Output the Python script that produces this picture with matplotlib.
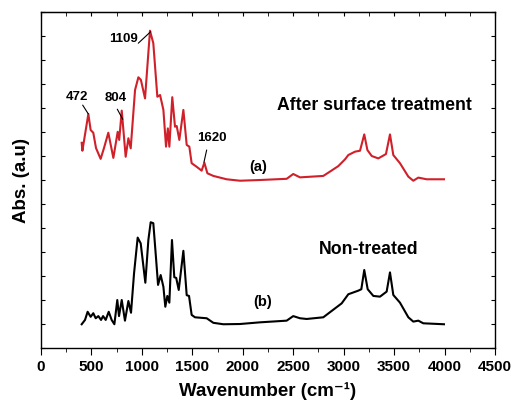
import numpy as np
import matplotlib.pyplot as plt
from matplotlib.ticker import MultipleLocator

plt.rcParams['font.family'] = ['Liberation Sans', 'DejaVu Sans']
plt.rcParams['font.weight'] = 'bold'

# after surface treatment, spectrum (a)
wn_a = [403, 410, 469, 492, 518, 545, 591, 624, 667, 717, 760, 775, 800, 839, 866, 889,
        932, 965, 990, 1031, 1080, 1113, 1153, 1180, 1213, 1239, 1257, 1272, 1301, 1328,
        1345, 1371, 1411, 1444, 1470, 1493, 1543, 1592, 1619, 1649, 1708, 1840, 1972,
        2170, 2435, 2500, 2567, 2798, 2864, 2947, 3013, 3046, 3112, 3162, 3204, 3235,
        3278, 3343, 3419, 3459, 3492, 3558, 3641, 3690, 3740, 3822, 3994]
abs_a = [8.55, 8.22, 9.75, 9.08, 8.97, 8.33, 7.88, 8.33, 8.97, 7.92, 9.01, 8.67, 9.89, 7.97,
         8.74, 8.32, 10.75, 11.28, 11.17, 10.40, 13.22, 12.70, 10.47, 10.54, 9.92, 8.39,
         9.15, 8.39, 10.45, 9.22, 9.25, 8.67, 9.92, 8.46, 8.39, 7.70, 7.55, 7.39, 7.72,
         7.28, 7.17, 7.03, 6.97, 7.00, 7.05, 7.25, 7.11, 7.17, 7.35, 7.58, 7.86, 8.04,
         8.18, 8.22, 8.90, 8.25, 8.00, 7.90, 8.08, 8.90, 8.04, 7.70, 7.14, 6.97, 7.10,
         7.03, 7.03]

# non-treated, spectrum (b)
wn_b = [403, 436, 462, 492, 518, 542, 568, 595, 615, 641, 671, 700, 727, 756, 773, 800,
        832, 866, 892, 922, 958, 988, 1034, 1064, 1087, 1113, 1140, 1160, 1186, 1213,
        1232, 1252, 1272, 1298, 1321, 1340, 1365, 1411, 1444, 1467, 1493, 1526, 1642,
        1708, 1807, 1972, 2170, 2435, 2500, 2567, 2633, 2798, 2914, 2980, 3046, 3145,
        3175, 3204, 3238, 3294, 3360, 3426, 3459, 3492, 3558, 3641, 3690, 3740, 3789, 3994]
abs_b = [0.99, 1.17, 1.51, 1.30, 1.45, 1.24, 1.33, 1.17, 1.33, 1.17, 1.51, 1.17, 0.99, 2.00,
         1.33, 2.00, 1.14, 1.96, 1.47, 3.11, 4.60, 4.36, 2.72, 4.50, 5.24, 5.20, 3.74,
         2.63, 3.04, 2.55, 1.72, 2.17, 1.89, 4.50, 2.95, 2.92, 2.42, 4.05, 2.20, 2.17,
         1.38, 1.28, 1.24, 1.05, 0.99, 1.00, 1.07, 1.14, 1.33, 1.24, 1.21, 1.28, 1.65,
         1.86, 2.24, 2.39, 2.45, 3.25, 2.45, 2.17, 2.14, 2.35, 3.15, 2.21, 1.89, 1.28,
         1.10, 1.14, 1.03, 0.99]

# peak labels on spectrum (a)
peak_labels = ['472', '804', '1109', '1620']
label_pos = [(357, 10.45), (743, 10.4), (816, 12.86), (1695, 8.74)]
# leader lines: start near label, end at peak
line_start = [(413, 10.12), (756, 9.95), (964, 12.70), (1642, 8.25)]
line_end = [(469, 9.75), (810, 9.53), (1087, 13.18), (1615, 7.74)]

fig = plt.figure(figsize=(5.18, 4.12), dpi=100)
ax = fig.add_axes([0.0792, 0.1553, 0.8764, 0.8156])

ax.plot(wn_a, abs_a, color='#d0202a', lw=1.5)
ax.plot(wn_b, abs_b, color='black', lw=1.5)

for lab, t, s, e in zip(peak_labels, label_pos, line_start, line_end):
    ax.text(t[0], t[1], lab, fontsize=9.5, fontweight='bold', ha='center', va='center')
    ax.annotate('', xy=e, xytext=s,
                arrowprops=dict(arrowstyle='-', lw=0.8, color='black',
                                shrinkA=0, shrinkB=0))

ax.text(3300, 10.1, 'After surface treatment', fontsize=12.7, fontweight='bold', ha='center', va='center')
ax.text(3250, 4.1, 'Non-treated', fontsize=12.7, fontweight='bold', ha='center', va='center')
ax.text(2150, 7.55, '(a)', fontsize=10.5, fontweight='bold', ha='center', va='center')
ax.text(2200, 1.9, '(b)', fontsize=10.5, fontweight='bold', ha='center', va='center')

ax.set_xlim(0, 4500)
ax.set_ylim(0, 14)
ax.xaxis.set_major_locator(MultipleLocator(500))
ax.xaxis.set_minor_locator(MultipleLocator(250))
ax.yaxis.set_major_locator(MultipleLocator(1))
ax.tick_params(axis='x', which='both', direction='out', top=False)
ax.tick_params(axis='x', which='major', length=5, labelsize=11)
ax.tick_params(axis='x', which='minor', length=3)
ax.tick_params(axis='y', direction='in', left=True, right=True, labelleft=False, length=3)
ax.set_yticklabels([])

# inward ticks along the top edge
top = ax.secondary_xaxis('top')
top.xaxis.set_major_locator(MultipleLocator(500))
top.xaxis.set_minor_locator(MultipleLocator(250))
top.tick_params(axis='x', which='both', direction='in', length=3, labeltop=False)

for s in ax.spines.values():
    s.set_linewidth(1.0)

ax.set_xlabel('Wavenumber (cm\u207b\u00b9)', fontsize=13.5, fontweight='bold', labelpad=6)
ax.set_ylabel('Abs. (a.u)', fontsize=13.5, fontweight='bold', labelpad=8)

fig.savefig('out.png', dpi=100)
